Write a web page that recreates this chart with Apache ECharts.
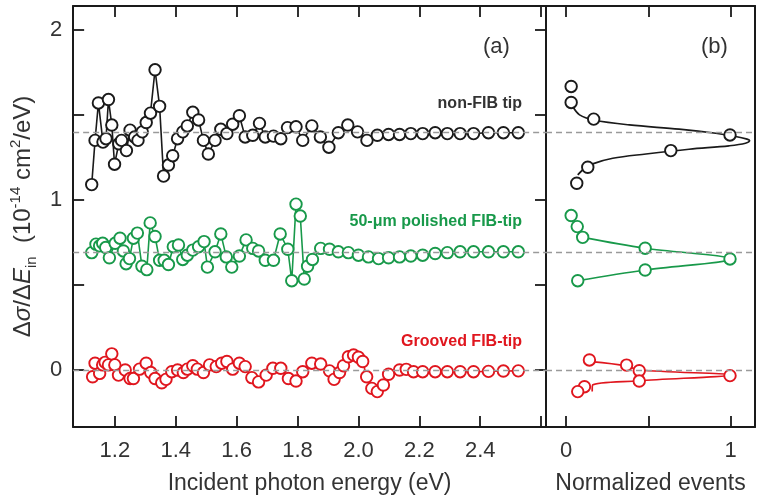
<!DOCTYPE html>
<html>
<head>
<meta charset="utf-8">
<script src="https://cdn.jsdelivr.net/npm/echarts@6/dist/echarts.min.js"></script>
<style>html,body{margin:0;padding:0;background:#fff;}#c{width:758px;height:502px;}</style>
</head>
<body>
<div id="c"></div>
<script>
// ---------- data (panel a) ----------
const blackE = [1.124,1.135,1.146,1.161,1.171,1.179,1.190,1.199,1.213,1.222,1.238,1.250,1.265,1.276,1.290,1.303,1.317,1.332,1.347,1.360,1.376,1.390,1.406,1.423,1.438,1.456,1.475,1.491,1.507,1.529,1.548,1.568,1.587,1.609,1.628,1.653,1.675,1.694,1.721,1.745,1.767,1.795,1.817,1.847,1.875,1.903,1.934,1.965,1.997,2.028,2.062,2.099,2.135,2.172,2.211,2.252,2.292,2.334,2.378,2.427,2.476,2.525];
const blackY = [1.09,1.35,1.57,1.34,1.36,1.59,1.44,1.21,1.33,1.35,1.29,1.41,1.37,1.35,1.40,1.455,1.51,1.765,1.55,1.14,1.205,1.26,1.36,1.40,1.435,1.515,1.47,1.35,1.27,1.35,1.415,1.39,1.445,1.495,1.37,1.38,1.45,1.37,1.375,1.36,1.425,1.43,1.35,1.435,1.37,1.31,1.395,1.44,1.40,1.35,1.38,1.385,1.385,1.39,1.39,1.395,1.39,1.39,1.39,1.395,1.395,1.395];

const greenE = [1.124,1.138,1.150,1.160,1.170,1.182,1.201,1.217,1.228,1.237,1.248,1.261,1.274,1.289,1.305,1.316,1.332,1.347,1.362,1.376,1.392,1.409,1.423,1.438,1.456,1.475,1.493,1.504,1.529,1.548,1.566,1.584,1.609,1.631,1.653,1.672,1.694,1.721,1.743,1.768,1.781,1.795,1.809,1.822,1.833,1.849,1.876,1.905,1.934,1.967,2.000,2.033,2.066,2.099,2.135,2.172,2.211,2.252,2.292,2.334,2.378,2.427,2.476,2.525];
const greenY = [0.69,0.74,0.73,0.745,0.72,0.66,0.745,0.775,0.70,0.625,0.655,0.775,0.805,0.61,0.59,0.865,0.785,0.645,0.645,0.62,0.725,0.735,0.65,0.675,0.705,0.725,0.755,0.605,0.695,0.80,0.665,0.605,0.67,0.765,0.715,0.70,0.645,0.645,0.80,0.71,0.525,0.975,0.905,0.535,0.61,0.65,0.715,0.71,0.695,0.69,0.675,0.665,0.655,0.66,0.665,0.67,0.675,0.685,0.69,0.695,0.695,0.695,0.695,0.695];

const redE = [1.127,1.135,1.150,1.160,1.168,1.179,1.190,1.200,1.212,1.234,1.250,1.261,1.281,1.303,1.318,1.332,1.354,1.368,1.387,1.406,1.425,1.438,1.456,1.471,1.491,1.511,1.533,1.551,1.568,1.587,1.609,1.628,1.650,1.672,1.697,1.719,1.745,1.770,1.795,1.817,1.847,1.876,1.905,1.920,1.938,1.951,1.967,1.984,2.000,2.014,2.027,2.044,2.062,2.082,2.099,2.135,2.157,2.181,2.211,2.252,2.292,2.334,2.378,2.427,2.476,2.525];
const redY = [-0.04,0.04,-0.02,0.03,0.045,0.03,0.095,0.03,-0.03,0.0,-0.05,-0.05,0.005,0.04,-0.015,-0.05,-0.075,-0.055,-0.01,0.0,-0.015,0.005,0.025,0.005,-0.015,0.03,0.02,0.04,0.05,0.005,0.04,0.02,-0.045,-0.07,-0.03,0.01,0.01,-0.05,-0.065,-0.01,0.04,0.035,-0.005,-0.055,-0.015,0.025,0.078,0.088,0.075,0.05,-0.04,-0.108,-0.127,-0.088,-0.025,0.0,0.004,-0.01,-0.01,-0.01,-0.01,-0.01,-0.01,-0.008,-0.006,-0.005];

// ---------- data (panel b: normalized events) ----------
const histBlackX = [0.03,0.03,0.167,0.996,0.636,0.131,0.064];
const histBlackY = [1.667,1.573,1.475,1.382,1.29,1.192,1.098];
const fitBlackX = [0.04,0.081,0.167,0.384,0.687,0.909,1.03,1.10,1.115,1.09,0.99,0.747,0.485,0.283,0.161,0.10,0.07];
const fitBlackY = [1.549,1.50,1.47,1.441,1.416,1.392,1.373,1.357,1.349,1.333,1.318,1.298,1.27,1.245,1.212,1.176,1.147];

const histGreenX = [0.03,0.067,0.10,0.48,0.996,0.48,0.07];
const histGreenY = [0.908,0.843,0.78,0.716,0.653,0.588,0.525];
const fitGreenX = [0.10,0.48,0.996,0.48,0.07];
const fitGreenY = [0.78,0.716,0.653,0.588,0.525];

const histRedX = [0.141,0.367,0.444,0.996,0.444,0.111,0.07];
const histRedY = [0.059,0.029,-0.004,-0.033,-0.065,-0.098,-0.127];
const fitRedX = [0.152,0.367,0.444,0.99,0.444,0.161,0.158];
const fitRedY = [0.049,0.024,0.0,-0.029,-0.063,-0.088,-0.127];

const refLevels = [1.4, 0.69, 0];

// ---------- tick labels ----------
const xTickLabelsA = ['1.2','1.4','1.6','1.8','2.0','2.2','2.4'];
const yTickLabels = ['0','1','2'];
const xTickLabelsB = ['0','1'];

const FONT = "'Liberation Sans', Arial, sans-serif";
const TXT = '#333';
const BLACK = '#1a1a1a', GREEN = '#18994a', RED = '#e0161e';

const zip = (a,b) => a.map((v,i)=>[v,b[i]]);
const pick = (list, digits) => v => { const s = Number(v).toFixed(digits); return (list.indexOf(s) >= 0 && Math.abs(Number(s)-v) < 1e-6) ? s : ''; };

const axLine = {show:true, onZero:false, lineStyle:{color:BLACK, width:2}};
const tick = {show:true, inside:true, length:11, lineStyle:{color:BLACK, width:1.8}};
const lbl = {color:TXT, fontSize:22, fontFamily:FONT};
const nameStyle = {color:TXT, fontSize:23, fontFamily:FONT};

const chart = echarts.init(document.getElementById('c'), null, {renderer:'canvas'});

function dataSeries(name, E, Y, color) {
  return {name, type:'line', xAxisIndex:0, yAxisIndex:0, data:zip(E,Y), z:3,
    symbol:'circle', symbolSize:11.5, showSymbol:true,
    itemStyle:{color:'#fff', borderColor:color, borderWidth:1.9},
    lineStyle:{color:color, width:1.6}, emphasis:{disabled:true}, animation:false};
}
function histSeries(X, Y, color) {
  return {type:'scatter', xAxisIndex:2, yAxisIndex:2, data:zip(X,Y), z:4,
    symbol:'circle', symbolSize:11.5,
    itemStyle:{color:'#fff', borderColor:color, borderWidth:1.9, opacity:1}, animation:false};
}
function fitSeries(X, Y, color) {
  return {type:'line', xAxisIndex:2, yAxisIndex:2, data:zip(X,Y), z:3, smooth:0.35,
    symbol:'none', lineStyle:{color:color, width:1.7}, animation:false};
}
function refSeries(xi, yi) {
  return {type:'line', xAxisIndex:xi, yAxisIndex:yi, data:[], z:1, symbol:'none', animation:false,
    markLine:{silent:true, symbol:'none', label:{show:false},
      lineStyle:{color:'#9a9a9a', type:[6,4], width:1.3},
      data:refLevels.map(v=>({yAxis:v}))}};
}

const option = {
  animation:false,
  textStyle:{fontFamily:FONT},
  grid:[
    {left:73, top:6, width:473, height:421},
    {left:546, top:6, width:211, height:421}
  ],
  xAxis:[
    {type:'value', gridIndex:0, position:'bottom', min:1.063, max:2.616, minInterval:0.2, maxInterval:0.2,
      axisLine:axLine, axisTick:tick, splitLine:{show:false},
      axisLabel:Object.assign({margin:13, formatter:pick(xTickLabelsA,1)}, lbl),
      name:'Incident photon energy (eV)', nameLocation:'middle', nameGap:45, nameTextStyle:nameStyle},
    {type:'value', gridIndex:0, position:'top', min:1.063, max:2.616, minInterval:0.2, maxInterval:0.2,
      axisLine:axLine, axisTick:tick, axisLabel:{show:false}, splitLine:{show:false}},
    {type:'value', gridIndex:1, position:'bottom', min:-0.123, max:1.148, minInterval:0.5, maxInterval:0.5,
      axisLine:axLine, axisTick:tick, splitLine:{show:false},
      axisLabel:Object.assign({margin:13, formatter:pick(xTickLabelsB,0)}, lbl),
      name:'Normalized events', nameLocation:'middle', nameGap:45, nameTextStyle:nameStyle},
    {type:'value', gridIndex:1, position:'top', min:-0.123, max:1.148, minInterval:0.5, maxInterval:0.5,
      axisLine:axLine, axisTick:tick, axisLabel:{show:false}, splitLine:{show:false}}
  ],
  yAxis:[
    {type:'value', gridIndex:0, position:'left', min:-0.335, max:2.14, minInterval:0.5, maxInterval:0.5,
      axisLine:axLine, axisTick:tick, splitLine:{show:false},
      axisLabel:Object.assign({margin:11, formatter:pick(yTickLabels,0)}, lbl),
      name:'{n|Δ}{i|σ}{n|/Δ}{i|E}{sub|in}{n|  (10}{sup|-14}{n| cm}{sup|2}{n|/eV)}',
      nameLocation:'middle', nameGap:33, nameRotate:90,
      nameTextStyle:{color:TXT, fontSize:24, fontFamily:FONT,
        rich:{
          n:{color:TXT, fontSize:24, fontFamily:FONT, lineHeight:31},
          i:{color:TXT, fontSize:24, fontFamily:FONT, fontStyle:'italic', lineHeight:31},
          sub:{color:TXT, fontSize:15, fontFamily:FONT, verticalAlign:'bottom', lineHeight:31},
          sup:{color:TXT, fontSize:15, fontFamily:FONT, verticalAlign:'top', lineHeight:31}
        }}},
    {type:'value', gridIndex:0, position:'right', min:-0.335, max:2.14, minInterval:0.5, maxInterval:0.5,
      axisLine:axLine, axisTick:tick, axisLabel:{show:false}, splitLine:{show:false}},
    {type:'value', gridIndex:1, position:'left', min:-0.335, max:2.14, minInterval:0.5, maxInterval:0.5,
      axisLine:axLine, axisTick:{show:false}, axisLabel:{show:false}, splitLine:{show:false}},
    {type:'value', gridIndex:1, position:'right', min:-0.335, max:2.14, minInterval:0.5, maxInterval:0.5,
      axisLine:axLine, axisTick:{show:false}, axisLabel:{show:false}, splitLine:{show:false}}
  ],
  graphic:[
    {type:'text', left:483, top:36, style:{text:'(a)', fill:TXT, font:"22px 'Liberation Sans', Arial, sans-serif"}},
    {type:'text', left:701, top:36, style:{text:'(b)', fill:TXT, font:"22px 'Liberation Sans', Arial, sans-serif"}},
    {type:'text', right:236, top:96, style:{text:'non-FIB tip', fill:'#333', font:"bold 16px 'Liberation Sans', Arial, sans-serif"}},
    {type:'text', right:236, top:214, style:{text:'50-μm polished FIB-tip', fill:GREEN, font:"bold 16px 'Liberation Sans', Arial, sans-serif"}},
    {type:'text', right:236, top:334, style:{text:'Grooved FIB-tip', fill:RED, font:"bold 16px 'Liberation Sans', Arial, sans-serif"}}
  ],
  series:[
    refSeries(0,0),
    refSeries(2,2),
    dataSeries('non-FIB tip', blackE, blackY, BLACK),
    dataSeries('50-μm polished FIB-tip', greenE, greenY, GREEN),
    dataSeries('Grooved FIB-tip', redE, redY, RED),
    fitSeries(fitBlackX, fitBlackY, BLACK),
    fitSeries(fitGreenX, fitGreenY, GREEN),
    fitSeries(fitRedX, fitRedY, RED),
    histSeries(histBlackX, histBlackY, BLACK),
    histSeries(histGreenX, histGreenY, GREEN),
    histSeries(histRedX, histRedY, RED)
  ]
};
chart.setOption(option);
</script>
</body>
</html>
